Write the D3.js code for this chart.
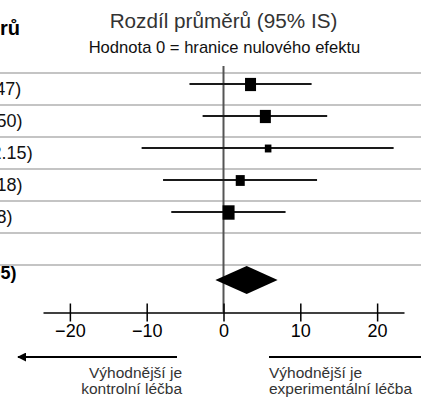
<!DOCTYPE html>
<html>
<head>
<meta charset="utf-8">
<script src="https://cdn.jsdelivr.net/npm/d3@7"></script>
<style>
body { margin: 0; background: #fff; }
svg { display: block; font-family: "Liberation Sans", Arial, sans-serif; }
</style>
</head>
<body>
<svg width="421" height="399"></svg>
<script>
var width = 421;
var height = 399;

// studies
var estimates = [3.52, 5.45, 5.81, 2.18, 0.66];
var lower = [-4.43, -2.72, -10.66, -7.87, -6.80];
var upper = [11.47, 13.50, 22.15, 12.18, 8.08];
var weights = [23.7, 23.7, 8.5, 15.9, 28.2];
var labels = ["3.52 (−4.43; 11.47)", "5.45 (−2.72; 13.50)", "5.81 (−10.66; 22.15)",
              "2.18 (−7.87; 12.18)", "0.66 (−6.80; 8.08)"];
var overall = {est: 3.02, lo: -1.06, hi: 7.05, label: "3.02 (−1.06; 7.05)"};
var ticks = [-20, -10, 0, 10, 20];

var svg = d3.select('svg');

var x = d3.scaleLinear().domain([-23.5, 23.5]).range([43, 404]);
var y = d3.scaleBand().domain(d3.range(7)).range([73, 297]);
var size = d3.scaleSqrt().domain([0, 28.2]).range([0, 12]);

function rowMid(i) { return y(i) + y.bandwidth() / 2; }

// titles
svg.append('text')
    .attr('x', x(0)).attr('y', 28)
    .attr('text-anchor', 'middle')
    .style('font-size', '20.7px').style('fill', '#333')
    .text('Rozdíl průměrů (95% IS)');
svg.append('text')
    .attr('x', x(0) + 1).attr('y', 53)
    .attr('text-anchor', 'middle')
    .style('font-size', '16.6px').style('fill', '#111')
    .text('Hodnota 0 = hranice nulového efektu');
svg.append('text')
    .attr('x', 20).attr('y', 35)
    .attr('text-anchor', 'end')
    .style('font-size', '20px').style('font-weight', 'bold')
    .text('Rozdíl průměrů');

// row separators
svg.selectAll('line.sep')
    .data(d3.range(7))
    .enter()
    .append('line')
    .attr('class', 'sep')
    .attr('x1', 0).attr('x2', width)
    .attr('y1', function(d) {return y(d);})
    .attr('y2', function(d) {return y(d);})
    .style('stroke', '#c4c4c4').style('stroke-width', '2px');

// zero line
svg.append('line')
    .attr('x1', x(0)).attr('x2', x(0))
    .attr('y1', 66).attr('y2', 312)
    .style('stroke', '#555').style('stroke-width', '2px');

// left labels
var labelX = -130;
svg.selectAll('text.lab')
    .data(labels)
    .enter()
    .append('text')
    .attr('class', 'lab')
    .attr('x', labelX)
    .attr('y', function(d, i) {return rowMid(i) + 6.2;})
    .style('font-size', '18px').style('fill', '#111')
    .text(function(d) {return d;});
svg.append('text')
    .attr('x', labelX + 3).attr('y', 279)
    .style('font-size', '18px').style('font-weight', 'bold')
    .text(overall.label);

// confidence intervals
svg.selectAll('line.ci')
    .data(estimates)
    .enter()
    .append('line')
    .attr('class', 'ci')
    .attr('x1', function(d, i) {return x(lower[i]);})
    .attr('x2', function(d, i) {return x(upper[i]);})
    .attr('y1', function(d, i) {return rowMid(i) - 5;})
    .attr('y2', function(d, i) {return rowMid(i) - 5;})
    .style('stroke', '#1a1a1a').style('stroke-width', '2px');

// weight squares
svg.selectAll('rect.pt')
    .data(estimates)
    .enter()
    .append('rect')
    .attr('class', 'pt')
    .attr('x', function(d, i) {return x(d) - size(weights[i]) / 2;})
    .attr('y', function(d, i) {return rowMid(i) - 4.5 - size(weights[i]) * 0.6;})
    .attr('width', function(d, i) {return size(weights[i]);})
    .attr('height', function(d, i) {return size(weights[i]) * 1.2;})
    .style('fill', '#000');

// overall diamond
var dy = rowMid(6) - 1;
svg.append('path')
    .attr('d', 'M' + x(overall.lo) + ',' + dy +
               'L' + x(overall.est) + ',' + (dy - 14) +
               'L' + x(overall.hi) + ',' + dy +
               'L' + x(overall.est) + ',' + (dy + 14) + 'Z')
    .style('fill', '#000');

// axis
var axis = svg.append('g')
    .attr('transform', 'translate(0,312.5)')
    .call(d3.axisBottom(x).tickValues(ticks).tickSize(0).tickSizeOuter(0).tickPadding(12));
axis.select('.domain').style('stroke', '#000').style('stroke-width', '1.5px');
axis.selectAll('.tick line')
    .attr('y1', -9).attr('y2', 9)
    .style('stroke', '#000').style('stroke-width', '1.5px');
axis.selectAll('.tick text')
    .style('font-size', '18px').style('fill', '#000')
    .style('font-family', '"Liberation Sans", Arial, sans-serif');

// direction arrows
svg.append('defs').append('marker')
    .attr('id', 'head')
    .attr('viewBox', '0 0 10 10')
    .attr('refX', 9).attr('refY', 5)
    .attr('markerWidth', 5).attr('markerHeight', 5)
    .attr('orient', 'auto-start-reverse')
    .append('path').attr('d', 'M0,0L10,5L0,10Z').style('fill', '#000');

svg.append('line')
    .attr('x1', 177).attr('x2', 18)
    .attr('y1', 357).attr('y2', 357)
    .style('stroke', '#000').style('stroke-width', '1.8px')
    .attr('marker-end', 'url(#head)');
svg.append('line')
    .attr('x1', 269).attr('x2', 440)
    .attr('y1', 357).attr('y2', 357)
    .style('stroke', '#000').style('stroke-width', '1.8px')
    .attr('marker-end', 'url(#head)');

var leftNote = svg.append('text')
    .attr('text-anchor', 'end')
    .style('font-size', '15.5px').style('fill', '#333');
leftNote.append('tspan').attr('x', 182).attr('y', 378).text('Výhodnější je');
leftNote.append('tspan').attr('x', 182).attr('y', 394).text('kontrolní léčba');

var rightNote = svg.append('text')
    .style('font-size', '15.5px').style('fill', '#333');
rightNote.append('tspan').attr('x', 269).attr('y', 378).text('Výhodnější je');
rightNote.append('tspan').attr('x', 269).attr('y', 394).text('experimentální léčba');
</script>
</body>
</html>
